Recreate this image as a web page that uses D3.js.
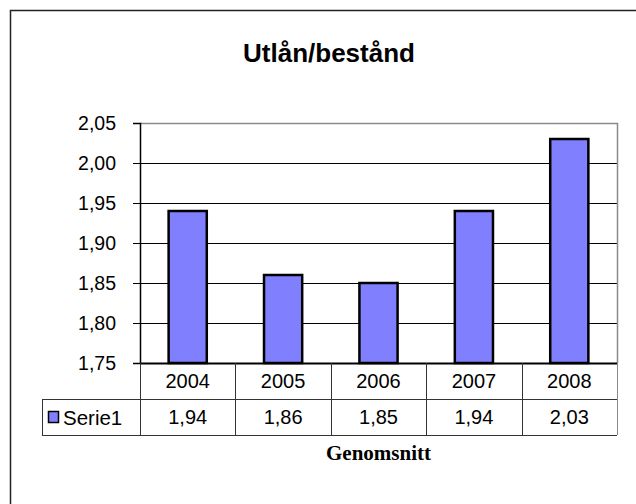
<!DOCTYPE html>
<html>
<head>
<meta charset="utf-8">
<script src="https://cdn.jsdelivr.net/npm/d3@7"></script>
<style>
  body { margin: 0; background: #fff; }
  svg { display: block; font-family: "Liberation Sans", Arial, sans-serif; }
</style>
</head>
<body>
<svg id="chart" width="636" height="504"></svg>
<script>
// chart data
let years = ['2004', '2005', '2006', '2007', '2008'];
let values = [1.94, 1.86, 1.85, 1.94, 2.03];
let yTicks = [1.75, 1.80, 1.85, 1.90, 1.95, 2.00, 2.05];
let seriesName = 'Serie1';
let title = 'Utlån/bestånd';
let xTitle = 'Genomsnitt';

let svg = d3.select('#chart');
let plot = { left: 140, right: 617, top: 123, bottom: 363 };
let rowH = 36;
let legendLeft = 42;
let fmt = v => d3.format('.2f')(v).replace('.', ',');

// outer frame
svg.append('rect')
    .attr('x', 10.5).attr('y', 10.5)
    .attr('width', 640).attr('height', 510)
    .attr('fill', 'none').attr('stroke', '#222').attr('stroke-width', 1.5);

svg.append('text')
    .attr('x', 329).attr('y', 62)
    .attr('text-anchor', 'middle')
    .attr('font-size', 26).attr('font-weight', 'bold')
    .text(title);

let x = d3.scaleBand().domain(years).range([plot.left, plot.right]).paddingInner(0.6).paddingOuter(0.3);
let xCell = d3.scaleBand().domain(years).range([plot.left, plot.right]);
let y = d3.scaleLinear().domain([1.75, 2.05]).range([plot.bottom, plot.top]);

// gridlines
svg.append('g')
    .selectAll('line')
    .data(yTicks.slice(1, -1))
    .enter().append('line')
    .attr('x1', plot.left).attr('x2', plot.right)
    .attr('y1', d => Math.round(y(d)) + 0.5).attr('y2', d => Math.round(y(d)) + 0.5)
    .attr('stroke', '#000');

// plot border top/right
svg.append('path')
    .attr('d', `M${plot.left},${plot.top + 0.5}H${plot.right + 0.5}V${plot.bottom}`)
    .attr('fill', 'none').attr('stroke', '#8a8a8a').attr('stroke-width', 1.5);

// bars
svg.append('g')
    .selectAll('rect')
    .data(values)
    .enter().append('rect')
    .attr('x', (d, i) => x(years[i]))
    .attr('y', d => y(d))
    .attr('width', x.bandwidth())
    .attr('height', d => plot.bottom - y(d))
    .attr('fill', '#8080ff')
    .attr('stroke', '#000').attr('stroke-width', 2.5);

// y axis
let yAxis = svg.append('g')
    .attr('transform', `translate(${plot.left},0)`)
    .call(d3.axisLeft(y).tickValues(yTicks).tickFormat(fmt).tickSize(7).tickPadding(17));
yAxis.select('.domain').attr('stroke', '#000').attr('stroke-width', 1.5);
yAxis.selectAll('text').attr('font-size', 19.5).attr('font-family', '"Liberation Sans", Arial, sans-serif').attr('fill', '#000');

// data table
let table = svg.append('g').attr('stroke', '#333').attr('stroke-width', 1);
table.append('line').attr('x1', plot.left).attr('x2', plot.right).attr('y1', plot.bottom + 0.5).attr('y2', plot.bottom + 0.5).attr('stroke', '#000').attr('stroke-width', 2);
table.append('line').attr('x1', legendLeft).attr('x2', plot.right).attr('y1', plot.bottom + rowH + 0.5).attr('y2', plot.bottom + rowH + 0.5);
table.append('line').attr('x1', legendLeft).attr('x2', plot.right).attr('y1', plot.bottom + 2 * rowH + 0.5).attr('y2', plot.bottom + 2 * rowH + 0.5);
table.append('line').attr('x1', legendLeft + 0.5).attr('x2', legendLeft + 0.5).attr('y1', plot.bottom + rowH).attr('y2', plot.bottom + 2 * rowH);
table.selectAll('.vline')
    .data(years.concat(['end']))
    .enter().append('line')
    .attr('x1', (d, i) => Math.round(i < years.length ? xCell(d) : plot.right) + 0.5)
    .attr('x2', (d, i) => Math.round(i < years.length ? xCell(d) : plot.right) + 0.5)
    .attr('y1', plot.bottom).attr('y2', plot.bottom + 2 * rowH)
    .attr('stroke', (d, i) => i === years.length ? '#8a8a8a' : '#333');

svg.append('g')
    .selectAll('text')
    .data(years)
    .enter().append('text')
    .attr('x', d => xCell(d) + xCell.bandwidth() / 2)
    .attr('y', plot.bottom + 25)
    .attr('text-anchor', 'middle')
    .attr('font-size', 20)
    .text(d => d);

svg.append('g')
    .selectAll('text')
    .data(values)
    .enter().append('text')
    .attr('x', (d, i) => xCell(years[i]) + xCell.bandwidth() / 2)
    .attr('y', plot.bottom + rowH + 25)
    .attr('text-anchor', 'middle')
    .attr('font-size', 20)
    .text(d => fmt(d));

// legend key
svg.append('rect')
    .attr('x', 48.5).attr('y', plot.bottom + rowH + 12.5)
    .attr('width', 10).attr('height', 11)
    .attr('fill', '#8080ff').attr('stroke', '#000').attr('stroke-width', 1.5);
svg.append('text')
    .attr('x', 63).attr('y', plot.bottom + rowH + 26)
    .attr('font-size', 20.5)
    .text(seriesName);

svg.append('text')
    .attr('x', (plot.left + plot.right) / 2).attr('y', 460)
    .attr('text-anchor', 'middle')
    .attr('font-family', '"Liberation Serif", "Times New Roman", serif')
    .attr('font-size', 21).attr('font-weight', 'bold')
    .text(xTitle);
</script>
</body>
</html>
